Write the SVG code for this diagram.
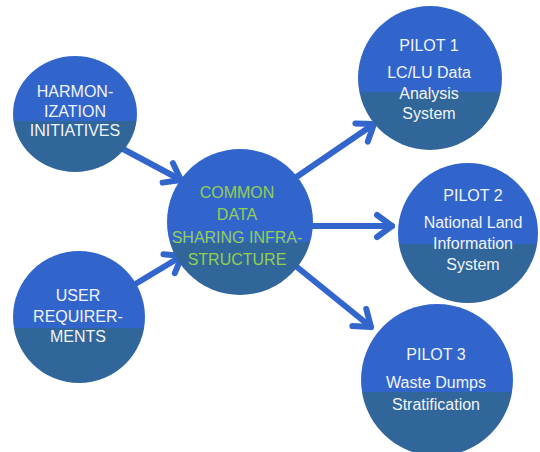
<svg xmlns="http://www.w3.org/2000/svg" width="540" height="452" viewBox="0 0 540 452">
  <style>
    .lbl { font-family: "Liberation Sans", Arial, sans-serif; font-size: 16px; fill: #f0f4fb; text-anchor: middle; }
    .grn { fill: #92d050; }
    .arrow { stroke: #3366cc; stroke-width: 6; stroke-linecap: round; fill: none; }
  </style>
  <defs>
    <linearGradient id="g56" x1="0" y1="0" x2="0" y2="1"><stop offset="0.56" stop-color="#3265cc"/><stop offset="0.56" stop-color="#31669a"/></linearGradient>
    <linearGradient id="g58" x1="0" y1="0" x2="0" y2="1"><stop offset="0.58" stop-color="#3265cc"/><stop offset="0.58" stop-color="#31669a"/></linearGradient>
    <linearGradient id="g60" x1="0" y1="0" x2="0" y2="1"><stop offset="0.60" stop-color="#3265cc"/><stop offset="0.60" stop-color="#31669a"/></linearGradient>
    <linearGradient id="g64" x1="0" y1="0" x2="0" y2="1"><stop offset="0.64" stop-color="#3265cc"/><stop offset="0.64" stop-color="#31669a"/></linearGradient>
    <marker id="head" markerUnits="userSpaceOnUse" viewBox="-20 -15 26 30" refX="0" refY="0" markerWidth="26" markerHeight="30" orient="auto" overflow="visible">
      <path d="M-15,-11 L0,0 L-15,11" stroke="#3366cc" stroke-width="6" stroke-linecap="round" stroke-linejoin="round" fill="none"/>
    </marker>
  </defs>

  <g id="connectors">
    <line class="arrow" x1="123" y1="149" x2="181" y2="180" marker-end="url(#head)"/>
    <line class="arrow" x1="137" y1="283" x2="182" y2="256" marker-end="url(#head)"/>
    <line class="arrow" x1="295" y1="178" x2="374" y2="124" marker-end="url(#head)"/>
    <line class="arrow" x1="310" y1="226" x2="392" y2="226" marker-end="url(#head)"/>
    <line class="arrow" x1="292" y1="263" x2="371" y2="327" marker-end="url(#head)"/>
  </g>

  <g id="harmonization">
    <ellipse cx="75" cy="114" rx="62" ry="58" fill="url(#g56)"/>
    <text class="lbl" x="75" y="97">HARMON-</text>
    <text class="lbl" x="75" y="116.5">IZATION</text>
    <text class="lbl" x="75" y="136">INITIATIVES</text>
  </g>

  <g id="user">
    <circle cx="79" cy="317" r="66" fill="url(#g58)"/>
    <text class="lbl" x="78" y="301">USER</text>
    <text class="lbl" x="78" y="322">REQUIRER-</text>
    <text class="lbl" x="78" y="342">MENTS</text>
  </g>

  <g id="common">
    <circle cx="240" cy="222" r="73" fill="url(#g64)"/>
    <text class="lbl grn" x="237" y="198">COMMON</text>
    <text class="lbl grn" x="237" y="220">DATA</text>
    <text class="lbl grn" x="237" y="243">SHARING INFRA-</text>
    <text class="lbl grn" x="237" y="265">STRUCTURE</text>
  </g>

  <g id="pilot1">
    <circle cx="430" cy="78" r="72" fill="url(#g60)"/>
    <text class="lbl" x="429" y="51">PILOT 1</text>
    <text class="lbl" x="429" y="78">LC/LU Data</text>
    <text class="lbl" x="429" y="99">Analysis</text>
    <text class="lbl" x="429" y="119">System</text>
  </g>

  <g id="pilot2">
    <circle cx="468" cy="233" r="70" fill="url(#g58)"/>
    <text class="lbl" x="473" y="201">PILOT 2</text>
    <text class="lbl" x="473" y="228">National Land</text>
    <text class="lbl" x="473" y="249">Information</text>
    <text class="lbl" x="473" y="270">System</text>
  </g>

  <g id="pilot3">
    <circle cx="437" cy="380" r="76" fill="url(#g58)"/>
    <text class="lbl" x="436" y="360">PILOT 3</text>
    <text class="lbl" x="436" y="388">Waste Dumps</text>
    <text class="lbl" x="436" y="410">Stratification</text>
  </g>
</svg>
